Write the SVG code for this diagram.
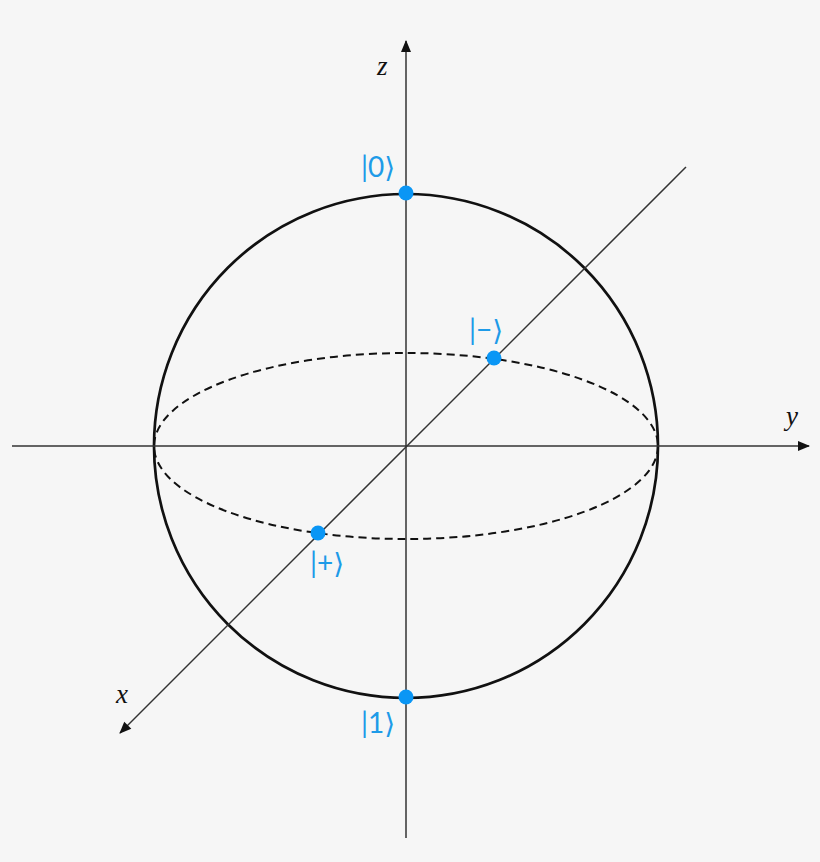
<svg xmlns="http://www.w3.org/2000/svg" width="820" height="862" viewBox="0 0 820 862">
<defs>
<marker id="arr" viewBox="0 0 12 10" refX="11" refY="5" markerWidth="13" markerHeight="10" markerUnits="userSpaceOnUse" orient="auto">
<path d="M0,0 L12,5 L0,10 Z" fill="#111"/>
</marker>
<style>
.axis{stroke:#333;stroke-width:1.5;fill:none}
.sphere{stroke:#111;stroke-width:2.7;fill:none}
.equator{stroke:#111;stroke-width:2;fill:none;stroke-dasharray:8 5}
.dot{fill:#0a96f5}
.ket{font-family:Lato,"Open Sans","DejaVu Sans",sans-serif;font-size:28px;fill:#1e9be8}
.ax{font-family:"Liberation Serif",serif;font-style:italic;font-size:27px;fill:#111}
</style>
</defs>
<rect width="820" height="862" fill="#f6f6f6"/>
<g id="sphere">
<circle class="sphere" cx="406" cy="446" r="252"/>
<ellipse class="equator" cx="406" cy="446" rx="252" ry="93"/>
</g>
<g id="connectors">
<line class="axis" x1="406" y1="838" x2="406" y2="41" marker-end="url(#arr)"/>
<line class="axis" x1="12" y1="446" x2="809" y2="446" marker-end="url(#arr)"/>
<line class="axis" x1="686" y1="167" x2="120" y2="733" marker-end="url(#arr)"/>
</g>
<g id="axis-labels">
<text class="ax" x="377" y="75">z</text>
<text class="ax" x="786" y="425">y</text>
<text class="ax" x="116" y="703">x</text>
</g>
<g id="state0"><circle class="dot" cx="406" cy="193" r="7.5"/><text class="ket" x="361" y="177">|0⟩</text></g>
<g id="state1"><circle class="dot" cx="406" cy="697" r="7.5"/><text class="ket" x="361" y="733">|1⟩</text></g>
<g id="stateMinus"><circle class="dot" cx="494" cy="358" r="7.5"/><text class="ket" x="469" y="340">|−⟩</text></g>
<g id="statePlus"><circle class="dot" cx="318" cy="533" r="7.5"/><text class="ket" x="310" y="573">|+⟩</text></g>
</svg>
